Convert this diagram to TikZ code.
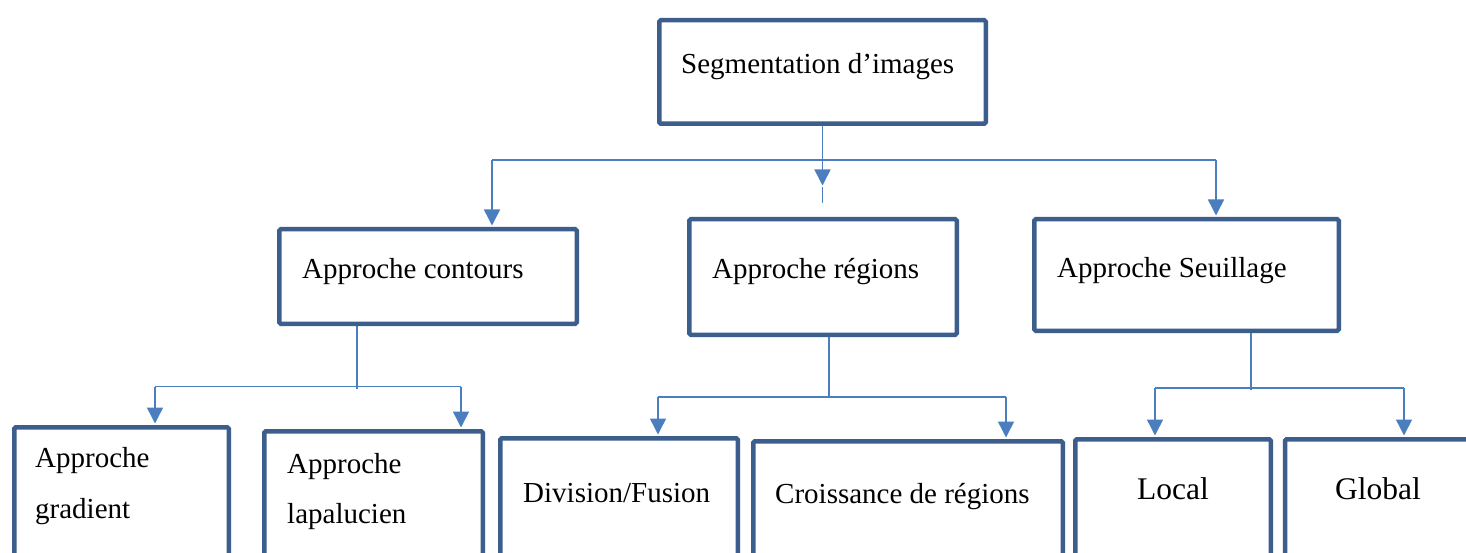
\documentclass[tikz,border=0pt]{standalone}
\usepackage{fontspec}
\setmainfont{Liberation Serif}
\usetikzlibrary{arrows.meta}
\definecolor{boxblue}{RGB}{60,94,140}
\definecolor{linkblue}{RGB}{74,126,190}
\tikzset{
  box/.style={draw=boxblue, line width=4.5pt, rounded corners=1.5pt, fill=white, inner sep=0pt},
  conn/.style={draw=linkblue, line width=1.5pt},
  arr/.style={conn, -{Triangle[width=16pt,length=16pt]}, shorten >=1.5pt},
  lbl/.style={anchor=base west, inner sep=0pt, font=\fontsize{29}{34}\selectfont},
  lblbig/.style={anchor=base west, inner sep=0pt, font=\fontsize{31.5}{36}\selectfont}
}
\begin{document}
\begin{tikzpicture}[x=1pt, y=-1pt]
\useasboundingbox (0,0) rectangle (1466,553);
\clip (0,0) rectangle (1466,553);
\fill[white] (0,0) rectangle (1466,553);

% boxes
\node[box, minimum width=326.5pt, minimum height=103.5pt] (top) at (822.5,72) {};
\node[box, minimum width=297.5pt, minimum height=94.5pt] (cont) at (428,276.5) {};
\node[box, minimum width=267.5pt, minimum height=115.5pt] (reg) at (823,277) {};
\node[box, minimum width=304.5pt, minimum height=111.5pt] (seu) at (1186.5,275) {};
\node[box, minimum width=214.5pt, minimum height=200pt] (grad) at (121.5,527.25) {};
\node[box, minimum width=218.5pt, minimum height=200pt] (lap) at (373.5,531.25) {};
\node[box, minimum width=237.5pt, minimum height=200pt] (div) at (619,538.25) {};
\node[box, minimum width=309.5pt, minimum height=200pt] (cro) at (908,541.25) {};
\node[box, minimum width=195.5pt, minimum height=200pt] (loc) at (1173,539.25) {};
\node[box, minimum width=230pt, minimum height=200pt] (glo) at (1400,539.25) {};

% labels
\node[lbl] (tTop) at (681,74) {Segmentation d’images};
\node[lbl] (tCont) at (302,278) {Approche contours};
\node[lbl] (tReg) at (712,279) {Approche régions};
\node[lbl] (tSeu) at (1057,277) {Approche Seuillage};
\node[lbl] (tGrad1) at (35,467) {Approche};
\node[lbl] (tGrad2) at (35,518) {gradient};
\node[lbl] (tLap1) at (287,473) {Approche};
\node[lbl] (tLap2) at (287,523) {lapalucien};
\node[lbl] (tDiv) at (523,502) {Division/Fusion};
\node[lbl] (tCro) at (775,503) {Croissance de régions};
\node[lblbig] (tLoc) at (1137,499) {Local};
\node[lblbig] (tGlo) at (1335,499) {Global};

% level 1 connectors
\coordinate (hL) at (492,160);
\coordinate (hR) at (1216,160);
\coordinate (mTip) at (822.5,187);
\coordinate (mEnd) at (822.5,203);
\draw[conn] (hL) -- (hR);
\draw[arr] (top.south) -- (mTip);
\draw[conn] (mTip) -- (mEnd);
\draw[arr] (hL) -- (hL |- cont.north);
\draw[arr] (hR) -- (hR |- seu.north);

% contours children
\coordinate (cV) at (357,389);
\coordinate (cL) at (155,386.5);
\coordinate (cR) at (461,386.5);
\draw[conn] (cont.south -| cV) -- (cV);
\draw[conn] (cL) -- (cR);
\draw[arr] (cL) -- (cL |- grad.north);
\draw[arr] (cR) -- (cR |- lap.north);

% regions children
\coordinate (rV) at (829,397);
\coordinate (rL) at (658,397);
\coordinate (rR) at (1006,397);
\draw[conn] (reg.south -| rV) -- (rV);
\draw[conn] (rL) -- (rR);
\draw[arr] (rL) -- (rL |- div.north);
\draw[arr] (rR) -- (rR |- cro.north);

% seuillage children
\coordinate (sV) at (1251,390);
\coordinate (sL) at (1155,388);
\coordinate (sR) at (1404,388);
\draw[conn] (seu.south -| sV) -- (sV);
\draw[conn] (sL) -- (sR);
\draw[arr] (sL) -- (sL |- loc.north);
\draw[arr] (sR) -- (sR |- glo.north);
\end{tikzpicture}
\end{document}
